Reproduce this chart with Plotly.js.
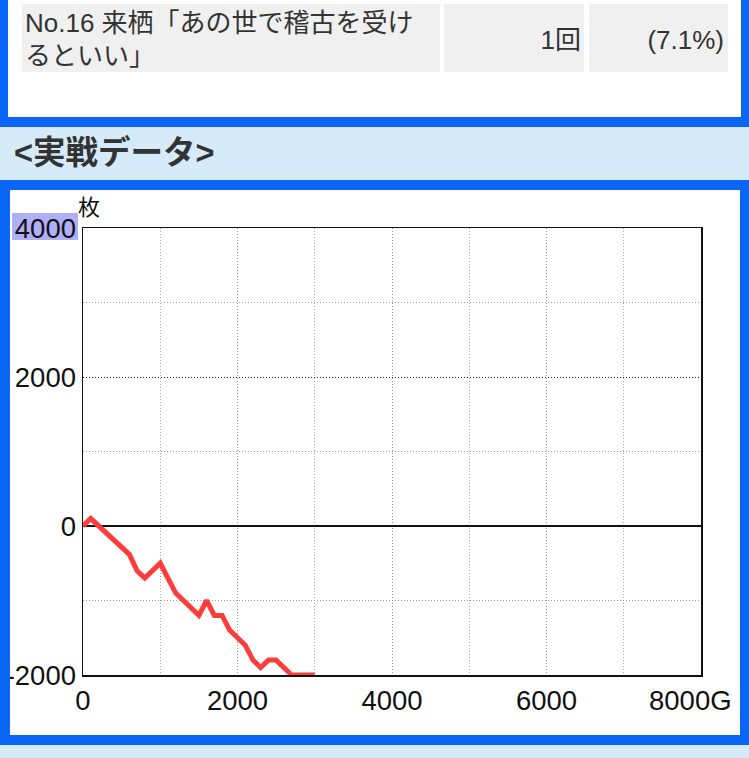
<!DOCTYPE html>
<html><head><meta charset="utf-8">
<script src="https://cdn.plot.ly/plotly-3.0.1.min.js"></script>
<style>
html,body{margin:0;padding:0;}
body{width:749px;height:758px;position:relative;overflow:hidden;background:#d6ebf9;font-family:"Liberation Sans","Noto Sans CJK JP",sans-serif;color:#333;}
.abs{position:absolute;}
</style></head><body>
<div class="abs" style="left:0;top:0;width:749px;height:127px;background:#0a66f5"></div>
<div class="abs" style="left:8px;top:0;width:733px;height:117px;background:#fff"></div>
<div class="abs" style="left:22px;top:4px;width:418px;height:68px;background:#f0f0f0"></div>
<div class="abs" style="left:444px;top:4px;width:140px;height:68px;background:#f0f0f0"></div>
<div class="abs" style="left:589px;top:4px;width:139px;height:68px;background:#f0f0f0"></div>
<div class="abs" style="left:25px;top:7px;width:414px;font-size:26px;line-height:33px;white-space:nowrap">No.16 来栖「あの世で稽古を受け<br>るといい」</div>
<div class="abs" style="left:444px;top:24px;width:137px;font-size:26px;line-height:33px;text-align:right">1回</div>
<div class="abs" style="left:589px;top:24px;width:135px;font-size:26px;line-height:33px;text-align:right">(7.1%)</div>
<div class="abs" style="left:0;top:127px;width:749px;height:53px;background:#d6ebf9"></div>
<div class="abs" style="left:14px;top:127px;height:53px;line-height:53px;font-size:32.5px;font-weight:bold;color:#333;white-space:nowrap">&lt;実戦データ&gt;</div>
<div class="abs" style="left:0;top:180px;width:749px;height:565px;background:#0a66f5"></div>
<div class="abs" style="left:10px;top:190px;width:730px;height:545px;background:#fff"></div>
<div id="chart" class="abs" style="left:10px;top:180px;width:730px;height:555px"></div>
<script>
const games = [0, 100, 600, 700, 800, 1000, 1200, 1500, 1600, 1700, 1800, 1900, 2000, 2100, 2200, 2300, 2400, 2500, 2700, 3000];
const medals = [0, 100, -380, -600, -700, -500, -900, -1200, -1000, -1200, -1200, -1400, -1500, -1600, -1800, -1900, -1800, -1800, -2000, -2000];
const xTickVals = [0, 2000, 4000, 6000, 8000];
const xTickText = ['0', '2000', '4000', '6000', ''];
const xLastLabel = '8000G';
const yTickVals = [-2000, 0, 2000, 4000];
const yTickText = ['-2000', '0', '2000', '4000'];
const yUnit = '枚';

const tickFont = {family: 'Liberation Sans, Noto Sans CJK JP, sans-serif', size: 27.5, color: '#111'};

const trace = {
  x: games, y: medals, type: 'scatter', mode: 'lines',
  line: {color: '#ff3c3c', width: 5},
  hoverinfo: 'skip'
};

const layout = {
  width: 730, height: 555,
  margin: {l: 73, r: 39, t: 48, b: 60},
  paper_bgcolor: 'rgba(0,0,0,0)', plot_bgcolor: '#fff',
  showlegend: false,
  xaxis: {
    range: [0, 8000], tickmode: 'array', tickvals: xTickVals, ticktext: xTickText,
    showline: true, mirror: true, linecolor: '#111', linewidth: 1.5,
    showgrid: true, gridcolor: '#999', griddash: '1px,2px', gridwidth: 1,
    zeroline: false, ticks: '', tickfont: tickFont,
    minor: {dtick: 1000, tick0: 0, showgrid: true, gridcolor: '#aaa', griddash: '1px,2px', gridwidth: 1}
  },
  yaxis: {
    range: [-2000, 4000], tickmode: 'array', tickvals: yTickVals, ticktext: yTickText,
    showline: true, mirror: true, linecolor: '#111', linewidth: 1.5,
    showgrid: true, gridcolor: '#222', griddash: '1px,2px', gridwidth: 1,
    zeroline: true, zerolinecolor: '#111', zerolinewidth: 2,
    ticks: '', tickfont: tickFont,
    minor: {dtick: 1000, tick0: 0, showgrid: true, gridcolor: '#999', griddash: '1px,2px', gridwidth: 1}
  },
  shapes: [{
    type: 'rect', layer: 'below',
    xref: 'paper', xsizemode: 'pixel', xanchor: 0, x0: -71, x1: -5,
    yref: 'paper', ysizemode: 'pixel', yanchor: 1, y0: -12, y1: 15,
    fillcolor: '#b0b0fa', line: {width: 0}
  }],
  annotations: [
    {text: yUnit, xref: 'paper', x: 0, xanchor: 'left', xshift: -7, yref: 'paper', y: 1, yanchor: 'bottom', yshift: 5,
     showarrow: false, font: {family: 'Noto Sans CJK JP, sans-serif', size: 22, color: '#111'}},
    {text: xLastLabel, xref: 'x', x: xTickVals[xTickVals.length - 1], xanchor: 'center', xshift: -11,
     yref: 'paper', y: 0, yanchor: 'top', yshift: -8, showarrow: false, font: tickFont}
  ]
};

Plotly.newPlot('chart', [trace], layout, {displayModeBar: false, staticPlot: true});
</script>
</body></html>
